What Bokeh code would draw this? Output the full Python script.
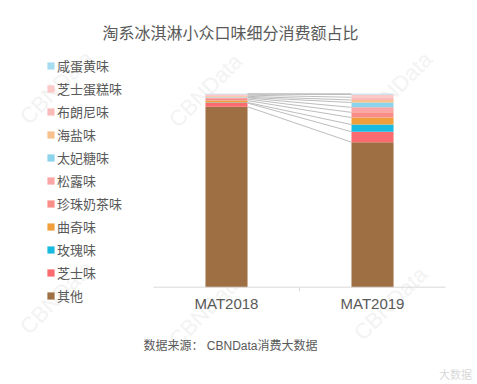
import numpy as np
from bokeh.plotting import figure
from bokeh.models import Range1d, Legend, LegendItem, Label, ColumnDataSource
from bokeh.embed import file_html
from bokeh.resources import INLINE
from bokeh.core.properties import value

# ---- data ----
categories = ["MAT2018", "MAT2019"]
flavors = ["其他", "芝士味", "玫瑰味", "曲奇味", "珍珠奶茶味", "松露味",
           "太妃糖味", "海盐味", "布朗尼味", "芝士蛋糕味", "咸蛋黄味"]
share_2018 = [93.3, 1.9, 0.3, 1.0, 0.8, 0.6, 0.3, 0.5, 0.6, 0.5, 0.2]
share_2019 = [75.0, 5.4, 3.7, 3.6, 2.7, 2.6, 2.5, 1.3, 1.4, 1.4, 0.4]
colors = ["#9e6f42", "#fa6a6e", "#19badf", "#f09f3c", "#f88e88", "#fba6a6",
          "#8bd4ec", "#f6c18d", "#fbbaba", "#fcc8c8", "#a6dcef"]
title_text = "淘系冰淇淋小众口味细分消费额占比"
source_text = "数据来源： CBNData消费大数据"

CJK = "Noto Sans CJK SC"
GRAY = "#595959"

W, H = 477, 384
n = len(categories)
xs = [i + 0.5 for i in range(n)]
bar_w = 0.288

# plot area occupies the whole canvas; axis drawn from the category arrays
px_x = 146.0      # pixels per category
px_y = 1.934      # pixels per percent
x0_px, y0_px = 153.0, 286.7
p = figure(width=W, height=H, output_backend="svg", toolbar_location=None,
           x_range=Range1d(-x0_px / px_x, n + (W - x0_px - n * px_x) / px_x),
           y_range=Range1d(-(H - y0_px) / px_y, y0_px / px_y),
           min_border=0)
p.outline_line_color = None
p.xgrid.visible = False
p.ygrid.visible = False
p.xaxis.visible = False
p.yaxis.visible = False
p.background_fill_color = "white"

# watermarks
for wx, wy in [(56, 87), (205, 90), (395, 88), (56, 297), (205, 310), (390, 303)]:
    p.add_layout(Label(x=wx, y=H - wy, x_units="screen", y_units="screen",
                       text="CBNData", angle=45, angle_units="deg",
                       text_align="center", text_baseline="middle",
                       text_font="Liberation Sans", text_font_size="22px",
                       text_color="#f3f3f3", level="underlay"))

src = ColumnDataSource(dict(x=xs, **{f: [share_2018[i], share_2019[i]]
                                     for i, f in enumerate(flavors)}))
rs = p.vbar_stack(flavors, x="x", width=bar_w, fill_color=colors,
                  line_color=None, source=src)

# connector lines between segment boundaries
c18 = np.cumsum(share_2018)
c19 = np.cumsum(share_2019)
p.segment(x0=[xs[0] + bar_w / 2] * len(c18), y0=list(c18),
          x1=[xs[1] - bar_w / 2] * len(c19), y1=list(c19),
          line_color="#bdbdbd", line_width=1)

# category axis
p.segment(x0=[0], y0=[0], x1=[n], y1=[0], line_color="#d9d9d9", line_width=1)
mids = [i for i in range(1, n)]
p.segment(x0=mids, y0=[0] * len(mids), x1=mids, y1=[-4 / px_y] * len(mids),
          line_color="#d9d9d9", line_width=1)
p.text(x=xs, y=[0] * n, text=categories, y_offset=16, text_align="center",
       text_baseline="middle", text_font=value("Liberation Sans"),
       text_font_size="15px", text_color=GRAY)

# legend
items = [LegendItem(label=f, renderers=[r]) for f, r in reversed(list(zip(flavors, rs)))]
legend = Legend(items=items, location=(46, 79), padding=0, margin=0,
                glyph_width=9, glyph_height=9, label_height=20, spacing=3,
                label_standoff=2, label_text_font=CJK,
                label_text_font_size="13px", label_text_color=GRAY,
                border_line_color=None, background_fill_alpha=0)
p.add_layout(legend)

# title and source
p.add_layout(Label(x=230, y=H - 31.7, x_units="screen", y_units="screen", text=title_text,
                   text_align="center", text_baseline="middle", text_font=CJK,
                   text_font_size="16px", text_color=GRAY))
p.add_layout(Label(x=143, y=H - 345, x_units="screen", y_units="screen", text=source_text,
                   text_align="left", text_baseline="middle",
                   text_font="Liberation Sans, Noto Sans CJK SC",
                   text_font_size="12px", text_color=GRAY))
p.add_layout(Label(x=455, y=H - 373, x_units="screen", y_units="screen", text="大数据",
                   text_align="center", text_baseline="middle", text_font=CJK,
                   text_font_size="11px", text_color="#d9d9d9"))

open("out.html", "w").write(file_html(p, INLINE))
